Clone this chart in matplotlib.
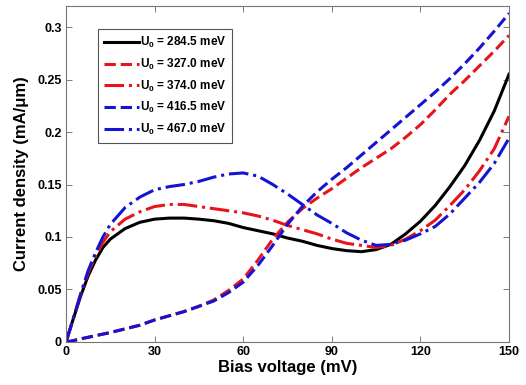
import matplotlib
matplotlib.use("Agg")
import matplotlib.pyplot as plt

plt.rcParams['font.family'] = ['Liberation Sans', 'DejaVu Sans']
plt.rcParams['font.weight'] = 'bold'
plt.rcParams['mathtext.fontset'] = 'custom'
plt.rcParams['mathtext.bf'] = 'Liberation Sans:bold'
plt.rcParams['mathtext.rm'] = 'Liberation Sans:bold'
plt.rcParams['mathtext.default'] = 'bf'

# bias voltage (mV)
v = [0, 2, 5, 7.5, 10, 12.5, 15, 20, 25, 30, 35, 40, 45, 50, 55, 60, 65, 70, 75,
     80, 85, 90, 95, 100, 105, 110, 115, 120, 125, 130, 135, 140, 145, 150]

# current density (mA/um) for each barrier height
j_2845 = [0, 0.018, 0.044, 0.063, 0.078, 0.090, 0.098, 0.108, 0.114, 0.117,
          0.118, 0.118, 0.117, 0.1155, 0.113, 0.109, 0.106, 0.103, 0.099,
          0.096, 0.092, 0.089, 0.087, 0.086, 0.088, 0.093, 0.103, 0.115,
          0.130, 0.148, 0.168, 0.192, 0.220, 0.255]
j_3270 = [0, 0.001, 0.003, 0.0045, 0.006, 0.0075, 0.009, 0.0125, 0.016,
          0.021, 0.025, 0.029, 0.034, 0.040, 0.049, 0.060, 0.078, 0.098,
          0.114, 0.127, 0.137, 0.146, 0.156, 0.166, 0.175, 0.184, 0.195,
          0.207, 0.221, 0.236, 0.249, 0.263, 0.277, 0.292]
j_3740 = [0, 0.018, 0.046, 0.066, 0.082, 0.095, 0.105, 0.117, 0.124, 0.129,
          0.131, 0.131, 0.129, 0.127, 0.125, 0.123, 0.120, 0.116, 0.111,
          0.107, 0.103, 0.098, 0.094, 0.092, 0.090, 0.092, 0.098, 0.106,
          0.116, 0.130, 0.145, 0.163, 0.184, 0.215]
j_4165 = [0, 0.001, 0.003, 0.0045, 0.006, 0.0075, 0.009, 0.0125, 0.016,
          0.021, 0.025, 0.029, 0.034, 0.039, 0.047, 0.057, 0.073, 0.092,
          0.112, 0.129, 0.143, 0.155, 0.166, 0.178, 0.190, 0.202, 0.214,
          0.226, 0.238, 0.251, 0.265, 0.280, 0.296, 0.313]
j_4670 = [0, 0.018, 0.046, 0.068, 0.085, 0.100, 0.112, 0.128, 0.138, 0.145,
          0.148, 0.150, 0.153, 0.157, 0.160, 0.161, 0.158, 0.150, 0.141,
          0.131, 0.121, 0.113, 0.104, 0.097, 0.092, 0.093, 0.097, 0.103,
          0.110, 0.122, 0.137, 0.152, 0.170, 0.194]

labels = ['284.5', '327.0', '374.0', '416.5', '467.0']
red = '#e8141c'
blue = '#1414d2'

fig = plt.figure(figsize=(5.26, 3.85), dpi=100)
ax = fig.add_axes([0.1255, 0.1117, 0.8422, 0.8727])

lw = 2.2
ax.plot(v, j_2845, color='black', lw=lw, ls='-')
ax.plot(v, j_3270, color=red, lw=lw, ls='--')
ax.plot(v, j_3740, color=red, lw=lw, ls='-.')
ax.plot(v, j_4165, color=blue, lw=lw, ls='--')
ax.plot(v, j_4670, color=blue, lw=lw, ls='-.')

leg = ax.legend([r'U$_0$ = %s meV' % s for s in labels],
                loc='upper left', bbox_to_anchor=(0.058, 0.948),
                fontsize=8.5, handlelength=3.0, handletextpad=0.1,
                labelspacing=0.55, borderpad=0.5, fancybox=False,
                framealpha=1, edgecolor='#555555')
leg.get_frame().set_linewidth(0.8)

ax.set_xlim(0, 150)
ax.set_ylim(0, 0.32)
ax.set_xticks([0, 30, 60, 90, 120, 150])
ax.set_yticks([0, 0.05, 0.1, 0.15, 0.2, 0.25, 0.3])
ax.set_yticklabels(['0', '0.05', '0.1', '0.15', '0.2', '0.25', '0.3'])
ax.tick_params(direction='in', top=True, right=True, length=4,
               width=0.6, color='#666666', labelsize=9, pad=3)
for sp in ax.spines.values():
    sp.set_color('#777777')
    sp.set_linewidth(0.8)

ax.set_xlabel('Bias voltage (mV)', fontsize=12, fontweight='bold', labelpad=1)
ax.set_ylabel('Current density (mA/μm)', fontsize=12, fontweight='bold',
              labelpad=6)

fig.savefig('out.png', dpi=100)
